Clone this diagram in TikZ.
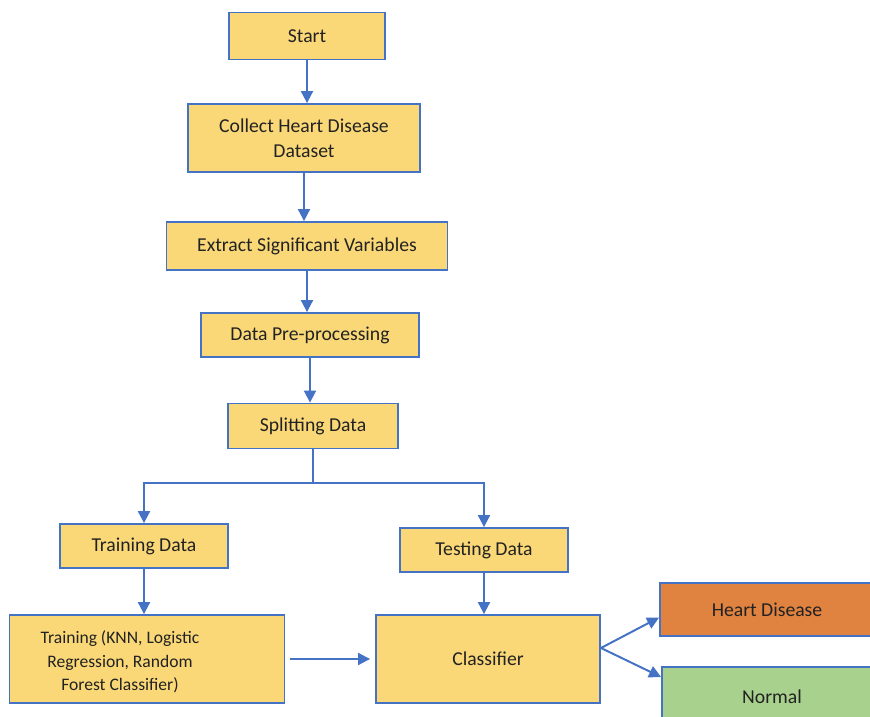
\documentclass[tikz,border=0pt]{standalone}
\usepackage{fontspec}
\setmainfont{Carlito}
\usepackage{xcolor}
\usepackage{tikz}
\usetikzlibrary{arrows.meta,positioning}
\definecolor{boxyellow}{RGB}{250,216,120}
\definecolor{boxblue}{RGB}{68,114,196}
\definecolor{boxorange}{RGB}{224,130,64}
\definecolor{boxgreen}{RGB}{169,209,142}
\definecolor{txtdark}{RGB}{34,34,34}
\tikzset{
	basic/.style = {draw=boxblue, line width=1.3pt, rectangle, inner sep=0pt, align=center,
		text=txtdark, font=\fontsize{14}{17.5}\selectfont},
	stage/.style = {basic, fill=boxyellow},
	result/.style = {basic},
	link/.style = {draw=boxblue, line width=1.4pt, ->}
}

\begin{document}
\begin{tikzpicture}[x=0.025cm, y=-0.025cm,
			>={Triangle[length=3mm,width=3mm]}]
			
			\clip (0,0) rectangle (870,717);
			
			% main chain of steps
			\node[stage, minimum width=3.9cm, minimum height=1.175cm] (start) at (307,36) {Start};
			\node[stage, minimum width=5.8cm, minimum height=1.7cm] (collect) at (304,138) {Collect Heart Disease\\Dataset};
			\node[stage, minimum width=7.025cm, minimum height=1.2cm] (extract) at (307,246) {Extract Significant Variables};
			\node[stage, minimum width=5.45cm, minimum height=1.1cm] (prep) at (310,335) {Data Pre-processing};
			\node[stage, minimum width=4.25cm, minimum height=1.125cm] (split) at (313,426) {Splitting Data};
			
			% the two branches
			\node[stage, minimum width=4.2cm, minimum height=1.1cm] (traindata) at (144,546) {Training Data};
			\node[stage, minimum width=4.2cm, minimum height=1.1cm] (testdata) at (484,550) {Testing Data};
			\node[stage, minimum width=6.875cm, minimum height=2.2cm] (train) at (147,659) {};
			\node[align=center, text=txtdark, font=\fontsize{12.5}{16.8}\selectfont] (traintext) at (120,662) {Training (KNN, Logistic\\Regression, Random\\Forest Classifier)};
			\node[stage, minimum width=5.6cm, minimum height=2.2cm] (clf) at (488,659) {Classifier};
			
			% outcomes
			\node[result, fill=boxorange, minimum width=5.5cm, minimum height=1.325cm] (heart) at (770,609.5) {\hspace*{-0.15cm}Heart Disease};
			\node[result, fill=boxgreen, minimum width=5.5cm, minimum height=1.5cm] (normal) at (772,697) {Normal};
			
			% arrows down the chain
			\draw[link] (start.south) -- (start.south |- collect.north);
			\draw[link] (collect.south) -- (collect.south |- extract.north);
			\draw[link] (extract.south) -- (extract.south |- prep.north);
			\draw[link] (prep.south) -- (prep.south |- split.north);
			
			% fork into training and testing
			\coordinate (fork) at (313,483);
			\draw[draw=boxblue, line width=1.4pt] (split.south) -- (fork);
			\draw[link] (fork) -| (traindata.north);
			\draw[link] (fork) -| (testdata.north);
			
			\draw[link] (traindata.south) -- (traindata.south |- train.north);
			\draw[link] (testdata.south) -- (testdata.south |- clf.north);
			\draw[link, shorten <=0.125cm, shorten >=0.125cm] (train.east) -- (clf.west);
			
			% classifier output
			\coordinate (out) at ([yshift=0.275cm]clf.east);
			\draw[link] (out) -- ([yshift=-0.2cm]heart.west);
			\draw[link] (out) -- ([yshift=0.5cm]normal.west);
		\end{tikzpicture}
\end{document}
